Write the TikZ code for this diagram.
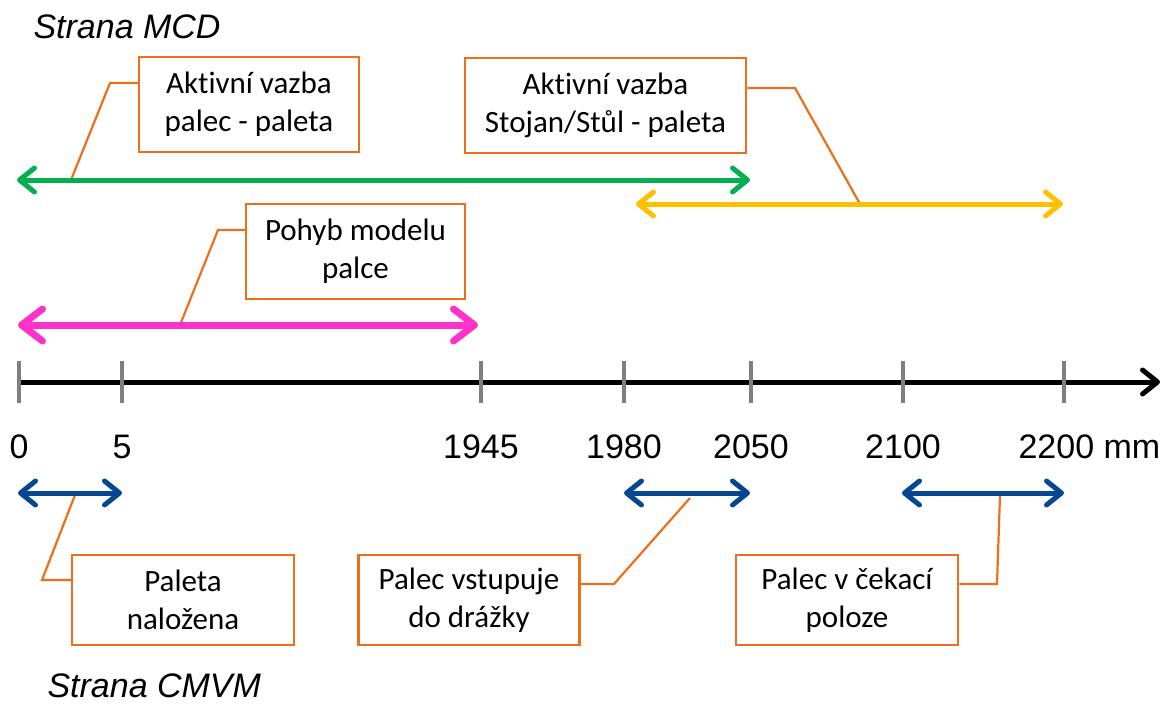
\documentclass[tikz,border=0pt]{standalone}
\usepackage{fontspec}
\setmainfont{Liberation Sans}
\newfontfamily\calibri[Ligatures=NoCommon]{Carlito}
\usetikzlibrary{arrows.meta}

\definecolor{callout}{RGB}{236,112,28}
\definecolor{mcdgreen}{RGB}{0,176,80}
\definecolor{mcdyellow}{RGB}{255,192,0}
\definecolor{motion}{RGB}{255,51,204}
\definecolor{cmvmblue}{RGB}{5,72,145}
\definecolor{tickgray}{RGB}{127,127,127}

\tikzset{
  barb/.tip={Straight Barb[length=15pt,width=24pt,round]},
  bigbarb/.tip={Straight Barb[length=21pt,width=32pt,round]},
  box/.style={draw=callout, line width=2.5pt, fill=white, align=center,
    inner sep=0pt, font=\calibri\fontsize{31}{38}\selectfont},
  leader/.style={draw=callout, line width=2.2pt},
  span/.style={line width=5pt, barb-barb},
  num/.style={anchor=base, font=\fontsize{34}{40}\selectfont},
  side/.style={anchor=base west, font=\itshape\fontsize{34}{40}\selectfont}
}

\begin{document}
\begin{tikzpicture}[x=1pt,y=-1pt]
  \useasboundingbox (0,0) rectangle (1172,707);

  \node[side] (mcd) at (30,38) {Strana MCD};
  \node[side] (cmvm) at (44,697) {Strana CMVM};

  % callouts
  \node[box, minimum width=220pt, minimum height=95pt] (b1) at (249,104.5) {Aktivní vazba\\palec - paleta};
  \node[box, minimum width=281pt, minimum height=95pt] (b2) at (605.5,105.5) {Aktivní vazba\\Stojan/Stůl - paleta};
  \node[box, minimum width=219pt, minimum height=95pt] (b3) at (355.5,251.5) {Pohyb modelu\\palce};
  \node[box, minimum width=222pt, minimum height=90pt] (b4) at (183,600) {Paleta\\naložena};
  \node[box, minimum width=221pt, minimum height=90pt] (b5) at (469,600) {Palec vstupuje\\do drážky};
  \node[box, minimum width=222pt, minimum height=90pt] (b6) at (847,600) {Palec v čekací\\poloze};

  % span end points
  \coordinate (g0) at (17,180);   \coordinate (g1) at (750,180);
  \coordinate (y0) at (636,204);  \coordinate (y1) at (1063,204);
  \coordinate (m0) at (18,325);   \coordinate (m1) at (478,325);
  \coordinate (p0) at (18,493);   \coordinate (p1) at (122,493);
  \coordinate (q0) at (624,493);  \coordinate (q1) at (750,493);
  \coordinate (r0) at (902,493);  \coordinate (r1) at (1064,493);

  % leader lines
  \draw[leader] (b1.west |- 0,83) -- (110,83) -- (71,180);
  \draw[leader] (b2.east |- 0,88) -- (795,88) -- (860,204);
  \draw[leader] (b3.west |- 0,230) -- (218,230) -- (180,325);
  \draw[leader] (b4.west |- 0,580) -- (42,580) -- (75,495);
  \draw[leader] (b5.east |- 0,584) -- (614,584) -- (690,498);
  \draw[leader] (b6.east |- 0,584) -- (997,584) -- (1000,495);

  \draw[span, mcdgreen] (g0) -- (g1);
  \draw[span, mcdyellow] (y0) -- (y1);
  \draw[line width=7pt, bigbarb-bigbarb, motion] (m0) -- (m1);
  \draw[span, cmvmblue] (p0) -- (p1);
  \draw[span, cmvmblue] (q0) -- (q1);
  \draw[span, cmvmblue] (r0) -- (r1);

  % axis
  \coordinate (ax0) at (18,382);
  \coordinate (ax1) at (1160,382);
  \draw[line width=5pt, -barb] (ax0) -- (ax1);
  \foreach \x/\lab in {19/0, 122/5, 481/1945, 624/1980, 751/2050, 903/2100}{
    \draw[tickgray, line width=4pt] (\x,361) -- (\x,403);
    \node[num] (t\lab) at (\x,458) {\lab};
  }
  \draw[tickgray, line width=4pt] (1064,361) -- (1064,403);
  \node[num, anchor=base west] (t2200) at (1015,458) {2200 mm};
\end{tikzpicture}
\end{document}
